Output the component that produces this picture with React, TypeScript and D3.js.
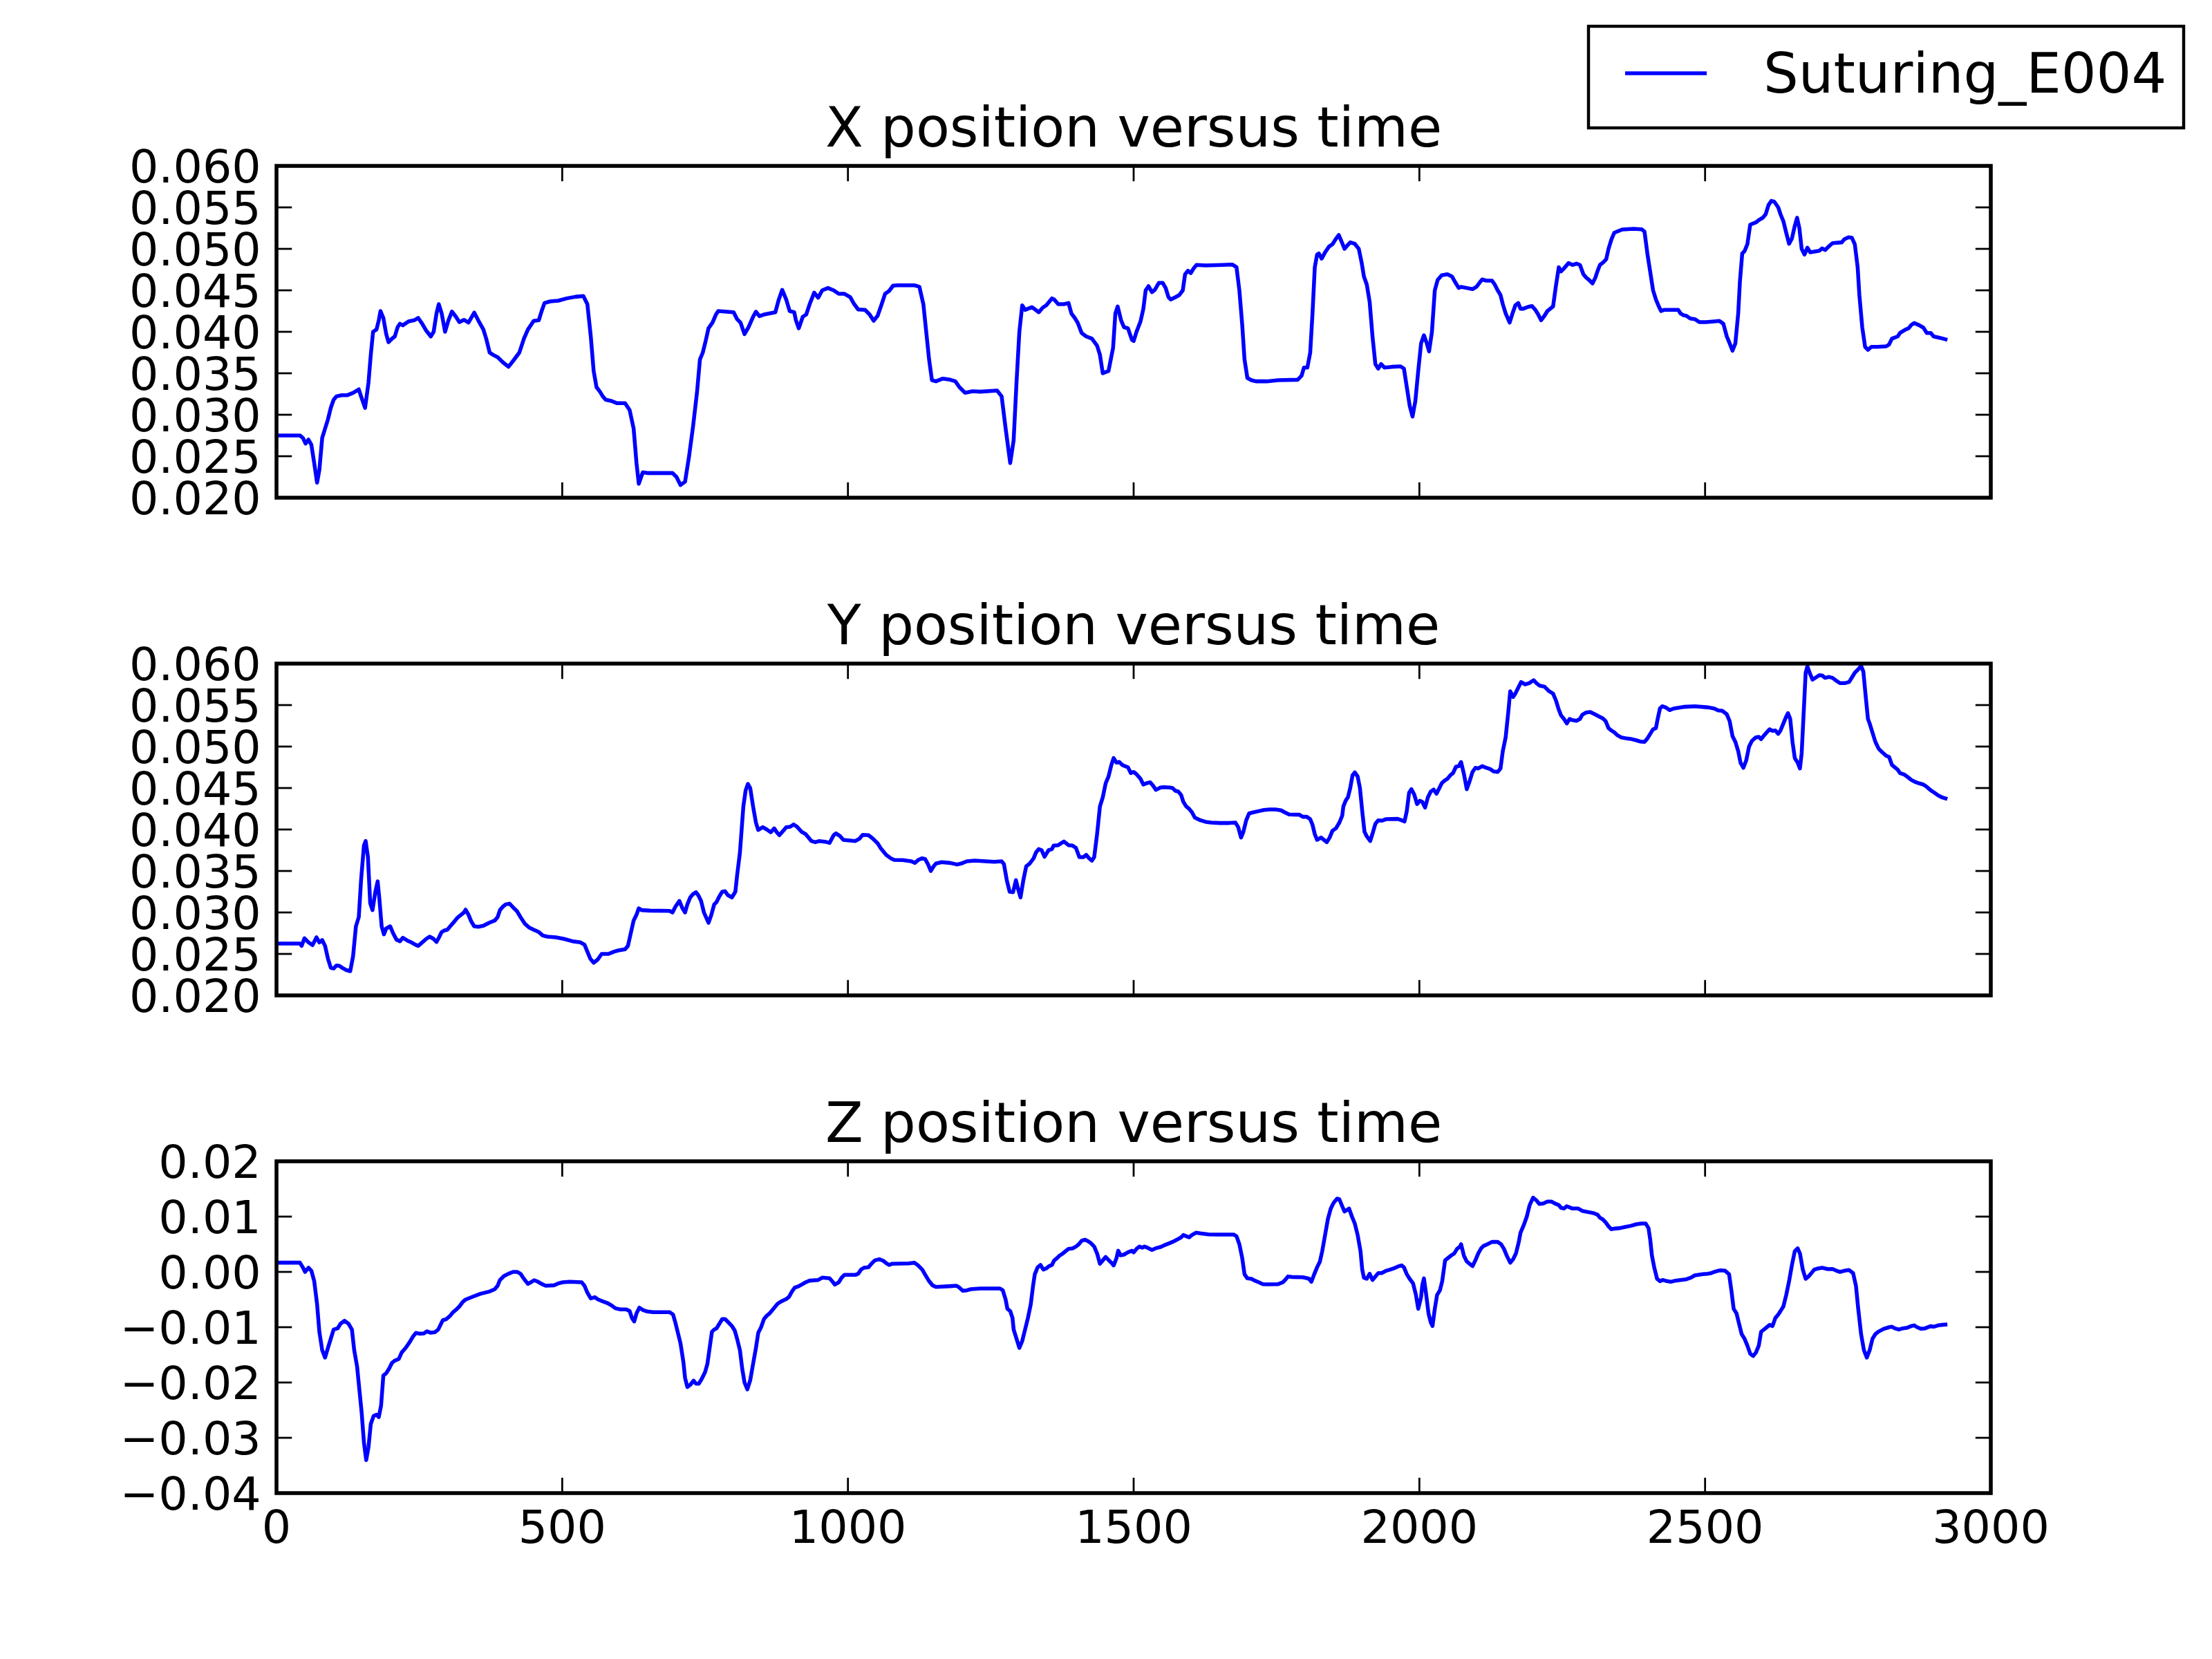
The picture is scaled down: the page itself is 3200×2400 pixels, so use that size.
import React from 'react';
import * as d3 from 'd3';

type Pt = [number, number];

const seriesName = 'Suturing_E004';
const titles = ['X position versus time', 'Y position versus time', 'Z position versus time'];
const timeTicks = [0, 500, 1000, 1500, 2000, 2500, 3000];
const timeTickLabels = ['0', '500', '1000', '1500', '2000', '2500', '3000'];
const xyTicks = [0.02, 0.025, 0.03, 0.035, 0.04, 0.045, 0.05, 0.055, 0.06];
const xyTickLabels = ['0.020', '0.025', '0.030', '0.035', '0.040', '0.045', '0.050', '0.055', '0.060'];
const zTicks = [-0.04, -0.03, -0.02, -0.01, 0, 0.01, 0.02];
const zTickLabels = ['\u22120.04', '\u22120.03', '\u22120.02', '\u22120.01', '0.00', '0.01', '0.02'];

const xPos: Pt[] = [[0,0.02750],[41,0.02750],[46,0.02722],[51,0.02653],[56,0.02700],[61,0.02639],[66,0.02417],[71,0.02181],[75,0.02333],[80,0.02722],[85,0.02833],[90,0.02944],[95,0.03083],[100,0.03181],[105,0.03222],[114,0.03236],[124,0.03236],[134,0.03264],[144,0.03306],[148,0.03222],[155,0.03083],[161,0.03389],[165,0.03722],[169,0.04000],[175,0.04028],[179,0.04139],[182,0.04250],[187,0.04167],[192,0.03972],[196,0.03875],[202,0.03917],[207,0.03944],[212,0.04056],[216,0.04097],[221,0.04078],[231,0.04125],[241,0.04139],[248,0.04167],[255,0.04097],[262,0.04014],[270,0.03944],[275,0.04000],[280,0.04222],[284,0.04333],[289,0.04222],[295,0.04000],[301,0.04139],[307,0.04244],[314,0.04181],[320,0.04117],[328,0.04144],[336,0.04111],[346,0.04231],[353,0.04139],[362,0.04028],[367,0.03917],[373,0.03750],[379,0.03722],[387,0.03694],[396,0.03633],[406,0.03578],[416,0.03667],[425,0.03750],[433,0.03917],[440,0.04028],[450,0.04131],[459,0.04139],[464,0.04250],[469,0.04347],[479,0.04367],[493,0.04375],[508,0.04403],[523,0.04422],[537,0.04431],[544,0.04333],[550,0.03944],[555,0.03528],[560,0.03333],[566,0.03278],[571,0.03222],[576,0.03181],[586,0.03167],[596,0.03139],[610,0.03139],[618,0.03056],[625,0.02833],[630,0.02417],[634,0.02167],[641,0.02306],[649,0.02297],[668,0.02297],[693,0.02297],[700,0.02250],[707,0.02153],[715,0.02194],[722,0.02500],[729,0.02861],[736,0.03278],[741,0.03667],[746,0.03750],[751,0.03889],[756,0.04042],[763,0.04111],[769,0.04208],[773,0.04250],[785,0.04244],[800,0.04236],[806,0.04153],[812,0.04111],[819,0.03972],[826,0.04056],[834,0.04181],[839,0.04242],[845,0.04189],[853,0.04208],[873,0.04236],[879,0.04389],[885,0.04506],[892,0.04389],[898,0.04250],[906,0.04236],[909,0.04139],[914,0.04042],[921,0.04181],[927,0.04208],[933,0.04333],[941,0.04472],[948,0.04411],[955,0.04500],[965,0.04528],[975,0.04500],[984,0.04458],[994,0.04458],[1004,0.04417],[1011,0.04333],[1018,0.04269],[1030,0.04264],[1038,0.04208],[1045,0.04133],[1052,0.04194],[1059,0.04333],[1065,0.04458],[1072,0.04492],[1079,0.04556],[1086,0.04561],[1116,0.04561],[1125,0.04542],[1132,0.04333],[1137,0.04000],[1142,0.03667],[1147,0.03417],[1154,0.03403],[1166,0.03436],[1179,0.03422],[1188,0.03403],[1195,0.03333],[1205,0.03264],[1218,0.03283],[1232,0.03278],[1261,0.03292],[1269,0.03222],[1276,0.02833],[1284,0.02417],[1290,0.02694],[1295,0.03389],[1300,0.04000],[1305,0.04319],[1310,0.04264],[1315,0.04278],[1322,0.04297],[1334,0.04236],[1341,0.04292],[1347,0.04319],[1352,0.04361],[1357,0.04403],[1361,0.04389],[1368,0.04333],[1378,0.04333],[1386,0.04347],[1391,0.04222],[1397,0.04167],[1402,0.04111],[1409,0.03986],[1417,0.03944],[1427,0.03917],[1436,0.03833],[1441,0.03722],[1446,0.03500],[1456,0.03528],[1464,0.03806],[1468,0.04222],[1472,0.04306],[1478,0.04139],[1483,0.04056],[1490,0.04042],[1497,0.03903],[1500,0.03889],[1505,0.04000],[1512,0.04125],[1517,0.04278],[1521,0.04500],[1526,0.04550],[1532,0.04478],[1537,0.04506],[1544,0.04589],[1551,0.04589],[1556,0.04528],[1561,0.04417],[1565,0.04389],[1573,0.04417],[1580,0.04444],[1586,0.04500],[1590,0.04694],[1595,0.04736],[1600,0.04708],[1605,0.04764],[1610,0.04806],[1626,0.04800],[1656,0.04806],[1673,0.04811],[1680,0.04778],[1685,0.04500],[1690,0.04083],[1694,0.03667],[1699,0.03444],[1706,0.03417],[1714,0.03403],[1733,0.03403],[1753,0.03417],[1787,0.03422],[1794,0.03472],[1798,0.03569],[1804,0.03569],[1809,0.03750],[1813,0.04222],[1817,0.04778],[1821,0.04931],[1824,0.04944],[1829,0.04883],[1835,0.04958],[1842,0.05028],[1848,0.05056],[1853,0.05111],[1859,0.05167],[1865,0.05069],[1869,0.05000],[1874,0.05042],[1879,0.05078],[1887,0.05061],[1894,0.05000],[1899,0.04833],[1903,0.04667],[1908,0.04569],[1913,0.04361],[1918,0.03944],[1923,0.03611],[1928,0.03556],[1933,0.03611],[1939,0.03569],[1952,0.03578],[1967,0.03583],[1973,0.03556],[1978,0.03333],[1983,0.03111],[1988,0.02978],[1993,0.03167],[1998,0.03528],[2003,0.03861],[2008,0.03958],[2013,0.03861],[2017,0.03764],[2022,0.04000],[2027,0.04500],[2032,0.04625],[2039,0.04681],[2049,0.04694],[2057,0.04667],[2064,0.04583],[2069,0.04528],[2073,0.04542],[2083,0.04528],[2093,0.04514],[2100,0.04542],[2105,0.04589],[2110,0.04631],[2117,0.04617],[2127,0.04617],[2132,0.04569],[2137,0.04500],[2142,0.04444],[2146,0.04333],[2151,0.04222],[2158,0.04111],[2163,0.04222],[2168,0.04319],[2173,0.04347],[2177,0.04278],[2182,0.04278],[2190,0.04300],[2197,0.04311],[2203,0.04264],[2208,0.04208],[2213,0.04139],[2219,0.04194],[2224,0.04250],[2229,0.04278],[2234,0.04306],[2239,0.04556],[2244,0.04778],[2248,0.04728],[2253,0.04764],[2261,0.04828],[2268,0.04806],[2275,0.04822],[2281,0.04806],[2287,0.04694],[2292,0.04653],[2297,0.04625],[2303,0.04583],[2308,0.04653],[2312,0.04736],[2316,0.04806],[2322,0.04839],[2327,0.04875],[2331,0.05000],[2336,0.05111],[2341,0.05194],[2346,0.05208],[2355,0.05233],[2375,0.05242],[2389,0.05236],[2394,0.05208],[2399,0.04944],[2404,0.04722],[2409,0.04500],[2414,0.04389],[2419,0.04306],[2423,0.04250],[2428,0.04264],[2453,0.04264],[2457,0.04222],[2462,0.04200],[2467,0.04194],[2474,0.04161],[2482,0.04153],[2490,0.04117],[2501,0.04117],[2516,0.04125],[2525,0.04131],[2532,0.04097],[2538,0.03944],[2543,0.03861],[2548,0.03772],[2553,0.03861],[2558,0.04222],[2561,0.04611],[2565,0.04944],[2569,0.04972],[2574,0.05056],[2579,0.05292],[2584,0.05306],[2589,0.05319],[2594,0.05347],[2601,0.05375],[2606,0.05417],[2611,0.05528],[2616,0.05578],[2621,0.05569],[2628,0.05500],[2632,0.05417],[2637,0.05333],[2642,0.05194],[2647,0.05061],[2652,0.05125],[2657,0.05278],[2661,0.05375],[2665,0.05250],[2669,0.05000],[2674,0.04931],[2679,0.05014],[2684,0.04958],[2691,0.04967],[2700,0.04978],[2705,0.05006],[2710,0.04986],[2717,0.05033],[2723,0.05069],[2739,0.05078],[2744,0.05117],[2751,0.05139],[2757,0.05133],[2762,0.05056],[2767,0.04778],[2770,0.04444],[2775,0.04056],[2780,0.03819],[2785,0.03783],[2791,0.03819],[2802,0.03819],[2817,0.03825],[2822,0.03847],[2827,0.03917],[2837,0.03944],[2841,0.03986],[2851,0.04028],[2856,0.04042],[2861,0.04083],[2866,0.04106],[2875,0.04078],[2882,0.04050],[2888,0.03986],[2895,0.03986],[2900,0.03944],[2908,0.03931],[2914,0.03922],[2924,0.03903]];

const yPos: Pt[] = [[0,0.02625],[41,0.02625],[44,0.02597],[49,0.02689],[56,0.02639],[63,0.02606],[70,0.02700],[75,0.02639],[80,0.02667],[85,0.02597],[90,0.02444],[95,0.02333],[100,0.02325],[105,0.02361],[110,0.02356],[116,0.02328],[122,0.02306],[129,0.02292],[134,0.02472],[139,0.02833],[144,0.02944],[148,0.03389],[153,0.03806],[156,0.03861],[160,0.03667],[164,0.03111],[168,0.03028],[173,0.03250],[177,0.03375],[180,0.03167],[184,0.02833],[188,0.02736],[192,0.02806],[199,0.02833],[204,0.02750],[210,0.02672],[216,0.02653],[221,0.02694],[229,0.02661],[236,0.02639],[243,0.02611],[248,0.02597],[255,0.02639],[262,0.02681],[268,0.02708],[275,0.02681],[280,0.02644],[284,0.02694],[289,0.02764],[294,0.02783],[299,0.02792],[304,0.02833],[311,0.02889],[317,0.02939],[323,0.02972],[328,0.03000],[331,0.03033],[336,0.02972],[341,0.02889],[346,0.02833],[353,0.02828],[362,0.02839],[372,0.02875],[382,0.02903],[387,0.02944],[391,0.03028],[396,0.03069],[401,0.03097],[408,0.03106],[414,0.03061],[421,0.03014],[427,0.02944],[435,0.02861],[442,0.02819],[450,0.02792],[459,0.02764],[466,0.02722],[474,0.02708],[489,0.02700],[503,0.02681],[518,0.02653],[532,0.02639],[539,0.02611],[544,0.02528],[549,0.02444],[555,0.02394],[562,0.02431],[569,0.02500],[581,0.02500],[591,0.02528],[598,0.02542],[610,0.02556],[615,0.02597],[620,0.02750],[625,0.02903],[630,0.02972],[634,0.03050],[639,0.03028],[654,0.03022],[688,0.03019],[693,0.03000],[698,0.03069],[705,0.03139],[710,0.03056],[715,0.03000],[719,0.03097],[724,0.03181],[729,0.03222],[734,0.03244],[738,0.03208],[743,0.03139],[748,0.03000],[756,0.02875],[761,0.02972],[766,0.03097],[770,0.03125],[775,0.03194],[780,0.03250],[785,0.03256],[790,0.03208],[797,0.03181],[803,0.03250],[806,0.03444],[811,0.03722],[814,0.04000],[817,0.04278],[821,0.04472],[825,0.04550],[829,0.04500],[834,0.04278],[839,0.04083],[843,0.03994],[851,0.04028],[858,0.04000],[865,0.03967],[871,0.04014],[875,0.03972],[880,0.03931],[887,0.03986],[892,0.04028],[899,0.04033],[905,0.04061],[911,0.04033],[919,0.03972],[926,0.03944],[931,0.03903],[936,0.03861],[943,0.03847],[950,0.03861],[960,0.03853],[968,0.03839],[975,0.03931],[979,0.03953],[986,0.03922],[992,0.03875],[1004,0.03867],[1013,0.03861],[1020,0.03889],[1026,0.03936],[1036,0.03931],[1043,0.03894],[1052,0.03833],[1057,0.03778],[1062,0.03736],[1067,0.03694],[1075,0.03653],[1081,0.03633],[1096,0.03631],[1111,0.03617],[1117,0.03597],[1123,0.03633],[1130,0.03653],[1135,0.03644],[1140,0.03583],[1145,0.03500],[1150,0.03556],[1154,0.03589],[1164,0.03606],[1179,0.03597],[1191,0.03578],[1198,0.03589],[1208,0.03617],[1222,0.03625],[1256,0.03611],[1269,0.03617],[1273,0.03583],[1278,0.03389],[1283,0.03250],[1289,0.03244],[1294,0.03389],[1298,0.03278],[1302,0.03181],[1307,0.03389],[1312,0.03556],[1318,0.03589],[1325,0.03653],[1329,0.03722],[1334,0.03764],[1339,0.03750],[1344,0.03672],[1351,0.03750],[1357,0.03764],[1360,0.03806],[1368,0.03811],[1378,0.03856],[1386,0.03811],[1393,0.03806],[1399,0.03778],[1405,0.03667],[1412,0.03667],[1417,0.03694],[1422,0.03653],[1427,0.03625],[1431,0.03667],[1436,0.03944],[1441,0.04278],[1446,0.04389],[1451,0.04556],[1456,0.04639],[1461,0.04778],[1465,0.04861],[1470,0.04806],[1475,0.04814],[1480,0.04778],[1485,0.04764],[1490,0.04750],[1495,0.04681],[1500,0.04694],[1505,0.04667],[1512,0.04611],[1517,0.04542],[1524,0.04561],[1529,0.04569],[1534,0.04528],[1539,0.04478],[1547,0.04506],[1553,0.04511],[1563,0.04506],[1568,0.04500],[1573,0.04467],[1578,0.04458],[1583,0.04417],[1587,0.04333],[1592,0.04278],[1597,0.04250],[1602,0.04208],[1607,0.04144],[1617,0.04111],[1626,0.04092],[1636,0.04083],[1651,0.04078],[1665,0.04078],[1678,0.04083],[1683,0.04028],[1688,0.03903],[1692,0.03972],[1697,0.04111],[1702,0.04194],[1709,0.04206],[1719,0.04222],[1728,0.04236],[1738,0.04242],[1748,0.04242],[1758,0.04231],[1764,0.04208],[1772,0.04181],[1790,0.04178],[1796,0.04153],[1803,0.04153],[1809,0.04125],[1813,0.04056],[1817,0.03944],[1821,0.03875],[1828,0.03903],[1833,0.03875],[1838,0.03847],[1843,0.03903],[1848,0.03986],[1854,0.04014],[1860,0.04083],[1865,0.04167],[1867,0.04278],[1871,0.04347],[1875,0.04389],[1879,0.04500],[1883,0.04653],[1887,0.04689],[1892,0.04639],[1896,0.04500],[1900,0.04222],[1904,0.03972],[1908,0.03917],[1914,0.03861],[1919,0.03972],[1923,0.04069],[1928,0.04111],[1934,0.04106],[1942,0.04125],[1962,0.04128],[1969,0.04111],[1974,0.04097],[1978,0.04222],[1982,0.04444],[1986,0.04486],[1991,0.04422],[1996,0.04306],[2001,0.04347],[2005,0.04333],[2010,0.04264],[2015,0.04389],[2020,0.04458],[2025,0.04481],[2030,0.04431],[2035,0.04500],[2039,0.04556],[2044,0.04589],[2049,0.04611],[2054,0.04653],[2059,0.04681],[2064,0.04756],[2069,0.04764],[2073,0.04814],[2078,0.04667],[2083,0.04486],[2088,0.04583],[2093,0.04694],[2098,0.04744],[2103,0.04736],[2110,0.04764],[2117,0.04744],[2124,0.04728],[2130,0.04700],[2137,0.04694],[2142,0.04736],[2146,0.04944],[2151,0.05111],[2156,0.05444],[2159,0.05667],[2164,0.05597],[2168,0.05639],[2173,0.05708],[2178,0.05778],[2185,0.05750],[2192,0.05764],[2200,0.05800],[2205,0.05764],[2210,0.05736],[2219,0.05722],[2227,0.05667],[2234,0.05639],[2239,0.05556],[2244,0.05444],[2248,0.05375],[2253,0.05333],[2258,0.05278],[2263,0.05333],[2268,0.05319],[2275,0.05311],[2281,0.05333],[2285,0.05383],[2292,0.05411],[2299,0.05417],[2307,0.05389],[2315,0.05361],[2321,0.05339],[2326,0.05306],[2331,0.05222],[2336,0.05194],[2341,0.05172],[2346,0.05139],[2353,0.05111],[2363,0.05097],[2372,0.05089],[2380,0.05075],[2386,0.05061],[2394,0.05056],[2399,0.05097],[2404,0.05153],[2409,0.05208],[2414,0.05222],[2417,0.05333],[2421,0.05458],[2425,0.05486],[2431,0.05472],[2438,0.05439],[2445,0.05458],[2462,0.05478],[2482,0.05486],[2506,0.05472],[2516,0.05458],[2523,0.05436],[2530,0.05431],[2538,0.05389],[2543,0.05306],[2548,0.05125],[2553,0.05056],[2558,0.04944],[2562,0.04806],[2567,0.04744],[2572,0.04833],[2577,0.05000],[2582,0.05069],[2589,0.05111],[2594,0.05117],[2598,0.05089],[2603,0.05133],[2608,0.05172],[2613,0.05208],[2618,0.05189],[2623,0.05194],[2628,0.05153],[2632,0.05194],[2637,0.05278],[2642,0.05361],[2645,0.05403],[2649,0.05333],[2653,0.05056],[2657,0.04861],[2662,0.04806],[2666,0.04736],[2669,0.04917],[2672,0.05333],[2676,0.05889],[2679,0.05967],[2683,0.05889],[2688,0.05806],[2694,0.05833],[2700,0.05861],[2705,0.05856],[2710,0.05828],[2717,0.05839],[2723,0.05828],[2730,0.05792],[2736,0.05764],[2744,0.05764],[2752,0.05778],[2757,0.05833],[2762,0.05889],[2768,0.05931],[2773,0.05972],[2777,0.05903],[2781,0.05611],[2785,0.05333],[2788,0.05278],[2793,0.05167],[2798,0.05056],[2804,0.04972],[2810,0.04931],[2817,0.04889],[2822,0.04875],[2827,0.04778],[2832,0.04750],[2837,0.04722],[2841,0.04681],[2849,0.04661],[2856,0.04625],[2861,0.04597],[2869,0.04569],[2875,0.04556],[2882,0.04542],[2888,0.04514],[2895,0.04472],[2900,0.04450],[2908,0.04411],[2914,0.04389],[2924,0.04367]];

const zPos: Pt[] = [[0,0.00167],[41,0.00167],[46,0.00083],[50,0.00000],[56,0.00075],[61,0.00021],[66,-0.00167],[71,-0.00583],[75,-0.01083],[80,-0.01417],[85,-0.01550],[90,-0.01375],[95,-0.01208],[100,-0.01042],[107,-0.01021],[112,-0.00938],[119,-0.00883],[126,-0.00938],[132,-0.01042],[136,-0.01417],[141,-0.01708],[145,-0.02125],[149,-0.02542],[153,-0.03083],[157,-0.03404],[161,-0.03167],[165,-0.02750],[170,-0.02604],[175,-0.02583],[179,-0.02625],[183,-0.02417],[187,-0.01875],[192,-0.01833],[197,-0.01750],[202,-0.01646],[207,-0.01604],[214,-0.01575],[219,-0.01458],[226,-0.01375],[233,-0.01271],[239,-0.01167],[244,-0.01104],[250,-0.01117],[258,-0.01112],[263,-0.01075],[270,-0.01100],[277,-0.01092],[283,-0.01042],[287,-0.00958],[291,-0.00875],[297,-0.00854],[304,-0.00792],[309,-0.00729],[316,-0.00667],[320,-0.00625],[326,-0.00542],[331,-0.00500],[343,-0.00450],[357,-0.00396],[373,-0.00354],[382,-0.00313],[387,-0.00250],[391,-0.00146],[398,-0.00075],[406,-0.00033],[414,0.00000],[421,0.00000],[427,-0.00033],[433,-0.00125],[440,-0.00217],[445,-0.00188],[451,-0.00150],[457,-0.00175],[464,-0.00217],[471,-0.00250],[486,-0.00242],[493,-0.00208],[501,-0.00188],[513,-0.00179],[534,-0.00188],[539,-0.00250],[544,-0.00375],[550,-0.00479],[557,-0.00458],[563,-0.00500],[571,-0.00533],[579,-0.00563],[586,-0.00604],[593,-0.00658],[602,-0.00679],[612,-0.00679],[618,-0.00708],[622,-0.00833],[626,-0.00896],[630,-0.00750],[635,-0.00646],[641,-0.00688],[649,-0.00717],[659,-0.00729],[688,-0.00729],[694,-0.00771],[698,-0.00917],[702,-0.01083],[707,-0.01292],[712,-0.01625],[715,-0.01917],[719,-0.02083],[724,-0.02042],[730,-0.01967],[734,-0.02021],[739,-0.02021],[744,-0.01938],[750,-0.01813],[754,-0.01667],[758,-0.01375],[762,-0.01083],[766,-0.01042],[770,-0.01021],[775,-0.00938],[780,-0.00854],[785,-0.00854],[792,-0.00925],[797,-0.00979],[802,-0.01063],[806,-0.01208],[811,-0.01417],[815,-0.01750],[819,-0.02000],[824,-0.02125],[829,-0.01958],[834,-0.01667],[839,-0.01375],[843,-0.01104],[848,-0.01000],[853,-0.00854],[858,-0.00792],[863,-0.00750],[868,-0.00688],[873,-0.00625],[877,-0.00575],[882,-0.00542],[892,-0.00492],[897,-0.00450],[902,-0.00354],[907,-0.00283],[913,-0.00263],[919,-0.00229],[926,-0.00188],[933,-0.00158],[948,-0.00146],[955,-0.00104],[968,-0.00117],[973,-0.00175],[977,-0.00229],[984,-0.00188],[989,-0.00104],[994,-0.00054],[1013,-0.00054],[1018,-0.00033],[1023,0.00042],[1028,0.00075],[1036,0.00083],[1041,0.00146],[1047,0.00208],[1055,0.00229],[1062,0.00200],[1067,0.00158],[1072,0.00125],[1077,0.00146],[1106,0.00154],[1116,0.00167],[1122,0.00125],[1130,0.00042],[1137,-0.00083],[1142,-0.00167],[1148,-0.00242],[1154,-0.00271],[1179,-0.00258],[1190,-0.00250],[1195,-0.00283],[1201,-0.00342],[1208,-0.00333],[1215,-0.00313],[1232,-0.00300],[1266,-0.00300],[1271,-0.00333],[1276,-0.00500],[1279,-0.00667],[1284,-0.00708],[1288,-0.00833],[1290,-0.01042],[1295,-0.01208],[1300,-0.01375],[1305,-0.01250],[1310,-0.01042],[1315,-0.00833],[1320,-0.00583],[1324,-0.00250],[1327,-0.00042],[1332,0.00083],[1337,0.00125],[1342,0.00042],[1347,0.00063],[1352,0.00104],[1357,0.00125],[1361,0.00208],[1366,0.00250],[1370,0.00292],[1375,0.00325],[1381,0.00375],[1386,0.00417],[1393,0.00425],[1399,0.00458],[1404,0.00500],[1409,0.00563],[1415,0.00583],[1421,0.00550],[1425,0.00521],[1431,0.00458],[1436,0.00333],[1441,0.00146],[1446,0.00208],[1451,0.00271],[1456,0.00217],[1461,0.00167],[1465,0.00117],[1470,0.00250],[1473,0.00383],[1477,0.00300],[1483,0.00313],[1490,0.00354],[1497,0.00383],[1500,0.00354],[1505,0.00417],[1510,0.00458],[1515,0.00438],[1519,0.00458],[1524,0.00438],[1532,0.00396],[1539,0.00429],[1547,0.00450],[1553,0.00479],[1560,0.00508],[1568,0.00542],[1576,0.00583],[1583,0.00625],[1587,0.00667],[1592,0.00646],[1597,0.00625],[1602,0.00667],[1609,0.00708],[1617,0.00696],[1631,0.00679],[1646,0.00675],[1675,0.00675],[1680,0.00646],[1685,0.00500],[1690,0.00250],[1694,-0.00042],[1699,-0.00117],[1706,-0.00125],[1712,-0.00158],[1719,-0.00188],[1726,-0.00221],[1733,-0.00225],[1753,-0.00221],[1761,-0.00188],[1765,-0.00146],[1770,-0.00083],[1777,-0.00092],[1796,-0.00096],[1803,-0.00113],[1807,-0.00125],[1811,-0.00179],[1816,-0.00042],[1821,0.00083],[1826,0.00188],[1830,0.00375],[1835,0.00667],[1840,0.00958],[1845,0.01146],[1850,0.01250],[1856,0.01325],[1860,0.01313],[1865,0.01188],[1869,0.01092],[1874,0.01125],[1877,0.01146],[1882,0.01000],[1887,0.00875],[1892,0.00667],[1897,0.00375],[1900,0.00042],[1903,-0.00104],[1908,-0.00125],[1913,-0.00033],[1918,-0.00146],[1923,-0.00083],[1928,-0.00021],[1934,-0.00021],[1942,0.00021],[1949,0.00042],[1957,0.00071],[1964,0.00104],[1969,0.00117],[1973,0.00083],[1978,-0.00042],[1983,-0.00125],[1989,-0.00208],[1994,-0.00417],[1998,-0.00667],[2003,-0.00458],[2005,-0.00250],[2008,-0.00117],[2012,-0.00417],[2016,-0.00750],[2020,-0.00917],[2023,-0.00979],[2027,-0.00667],[2031,-0.00417],[2036,-0.00333],[2040,-0.00167],[2045,0.00208],[2050,0.00250],[2056,0.00300],[2061,0.00333],[2066,0.00417],[2071,0.00458],[2073,0.00500],[2078,0.00292],[2083,0.00188],[2088,0.00146],[2093,0.00104],[2098,0.00208],[2103,0.00333],[2108,0.00425],[2112,0.00467],[2119,0.00500],[2127,0.00542],[2137,0.00542],[2143,0.00500],[2148,0.00417],[2153,0.00292],[2159,0.00167],[2164,0.00229],[2169,0.00333],[2174,0.00542],[2177,0.00708],[2183,0.00854],[2188,0.01000],[2193,0.01208],[2199,0.01342],[2205,0.01292],[2210,0.01229],[2217,0.01238],[2224,0.01271],[2231,0.01271],[2239,0.01229],[2244,0.01208],[2248,0.01158],[2253,0.01146],[2258,0.01188],[2268,0.01146],[2278,0.01146],[2285,0.01104],[2295,0.01083],[2305,0.01063],[2312,0.01033],[2316,0.00979],[2321,0.00950],[2326,0.00896],[2331,0.00825],[2336,0.00771],[2341,0.00783],[2351,0.00792],[2360,0.00813],[2370,0.00833],[2380,0.00863],[2389,0.00875],[2396,0.00875],[2401,0.00792],[2404,0.00583],[2407,0.00292],[2411,0.00083],[2416,-0.00125],[2421,-0.00167],[2426,-0.00146],[2433,-0.00167],[2440,-0.00179],[2448,-0.00158],[2457,-0.00146],[2467,-0.00133],[2475,-0.00104],[2482,-0.00063],[2490,-0.00050],[2496,-0.00042],[2504,-0.00033],[2511,-0.00021],[2516,0.00000],[2523,0.00021],[2528,0.00029],[2535,0.00021],[2542,-0.00042],[2546,-0.00333],[2550,-0.00667],[2555,-0.00750],[2559,-0.00917],[2564,-0.01125],[2569,-0.01208],[2574,-0.01333],[2579,-0.01479],[2584,-0.01521],[2589,-0.01458],[2594,-0.01333],[2598,-0.01083],[2603,-0.01042],[2608,-0.01000],[2613,-0.00958],[2618,-0.00979],[2623,-0.00833],[2628,-0.00771],[2632,-0.00708],[2637,-0.00625],[2642,-0.00417],[2647,-0.00167],[2652,0.00125],[2657,0.00375],[2662,0.00425],[2666,0.00333],[2671,0.00042],[2676,-0.00125],[2681,-0.00083],[2686,-0.00021],[2691,0.00042],[2698,0.00063],[2705,0.00075],[2715,0.00050],[2723,0.00054],[2730,0.00021],[2736,0.00000],[2744,0.00021],[2752,0.00033],[2759,-0.00021],[2764,-0.00250],[2768,-0.00667],[2773,-0.01125],[2778,-0.01417],[2783,-0.01550],[2788,-0.01417],[2793,-0.01208],[2798,-0.01125],[2803,-0.01083],[2812,-0.01033],[2822,-0.01000],[2827,-0.00992],[2832,-0.01021],[2839,-0.01042],[2846,-0.01021],[2854,-0.01008],[2861,-0.00979],[2866,-0.00967],[2871,-0.01000],[2878,-0.01029],[2885,-0.01021],[2895,-0.00979],[2900,-0.00992],[2908,-0.00967],[2914,-0.00958],[2924,-0.00950]];

const W = 3200;
const H = 2400;
const LEFT = 400;
const RIGHT = 2880;
const PANEL_H = 480;
const PANEL_TOPS = [240, 960, 1680];
const PT = 400 / 72;
const FONT = "'DejaVu Sans', 'Liberation Sans', sans-serif";
const TICK_FS = 12 * PT;
const TITLE_FS = 14.4 * PT;

interface PanelProps {
  id: string;
  data: Pt[];
  domain: [number, number];
  ticks: number[];
  labels: string[];
  title: string;
  top: number;
  showTimeLabels: boolean;
}

function Panel({ id, data, domain, ticks, labels, title, top, showTimeLabels }: PanelProps) {
  const x = d3.scaleLinear().domain([0, 3000]).range([LEFT, RIGHT]);
  const y = d3.scaleLinear().domain(domain).range([top + PANEL_H, top]);
  const line = d3.line<Pt>().x((d) => x(d[0])).y((d) => y(d[1]));
  const bottom = top + PANEL_H;
  const tl = 4 * PT;
  const tw = 0.5 * PT;
  return (
    <g>
      <defs>
        <clipPath id={`clip-${id}`}>
          <rect x={LEFT} y={top} width={RIGHT - LEFT} height={PANEL_H} />
        </clipPath>
      </defs>
      <path
        d={line(data) || ''}
        fill="none"
        stroke="#0000ff"
        strokeWidth={PT}
        strokeLinejoin="round"
        clipPath={`url(#clip-${id})`}
      />
      {timeTicks.map((t) => (
        <g key={`tx${t}`} stroke="#000" strokeWidth={tw}>
          <line x1={x(t)} x2={x(t)} y1={bottom} y2={bottom - tl} />
          <line x1={x(t)} x2={x(t)} y1={top} y2={top + tl} />
        </g>
      ))}
      {ticks.map((v) => (
        <g key={`ty${v}`} stroke="#000" strokeWidth={tw}>
          <line x1={LEFT} x2={LEFT + tl} y1={y(v)} y2={y(v)} />
          <line x1={RIGHT} x2={RIGHT - tl} y1={y(v)} y2={y(v)} />
        </g>
      ))}
      <rect x={LEFT} y={top} width={RIGHT - LEFT} height={PANEL_H} fill="none" stroke="#000" strokeWidth={PT} />
      {ticks.map((v, i) => (
        <text
          key={`ly${v}`}
          x={LEFT - 4 * PT}
          y={y(v) + 0.36 * TICK_FS}
          textAnchor="end"
          fontSize={TICK_FS}
          fontFamily={FONT}
          fill="#000"
        >
          {labels[i]}
        </text>
      ))}
      {showTimeLabels &&
        timeTicks.map((t, i) => (
          <text
            key={`lx${t}`}
            x={x(t)}
            y={bottom + 4 * PT + 0.73 * TICK_FS + 1}
            textAnchor="middle"
            fontSize={TICK_FS}
            fontFamily={FONT}
            fill="#000"
          >
            {timeTickLabels[i]}
          </text>
        ))}
      <text
        x={(LEFT + RIGHT) / 2}
        y={top - 28}
        textAnchor="middle"
        fontSize={TITLE_FS}
        fontFamily={FONT}
        fill="#000"
      >
        {title}
      </text>
    </g>
  );
}

export default function App() {
  return (
    <svg
      width={W}
      height={H}
      viewBox={`0 0 ${W} ${H}`}
      style={{ position: 'absolute', left: 0, top: 0, background: '#fff', display: 'block' }}
    >
      <rect x={0} y={0} width={W} height={H} fill="#fff" />
      <Panel id="x" data={xPos} domain={[0.02, 0.06]} ticks={xyTicks} labels={xyTickLabels} title={titles[0]} top={PANEL_TOPS[0]} showTimeLabels={false} />
      <Panel id="y" data={yPos} domain={[0.02, 0.06]} ticks={xyTicks} labels={xyTickLabels} title={titles[1]} top={PANEL_TOPS[1]} showTimeLabels={false} />
      <Panel id="z" data={zPos} domain={[-0.04, 0.02]} ticks={zTicks} labels={zTickLabels} title={titles[2]} top={PANEL_TOPS[2]} showTimeLabels={true} />
      <g>
        <rect x={2298} y={38} width={861} height={147} fill="#fff" stroke="#000" strokeWidth={PT * 0.8} />
        <line x1={2351} x2={2469} y1={106} y2={106} stroke="#0000ff" strokeWidth={PT} />
        <text x={2551} y={134} fontSize={TITLE_FS} fontFamily={FONT} fill="#000">
          {seriesName}
        </text>
      </g>
    </svg>
  );
}
